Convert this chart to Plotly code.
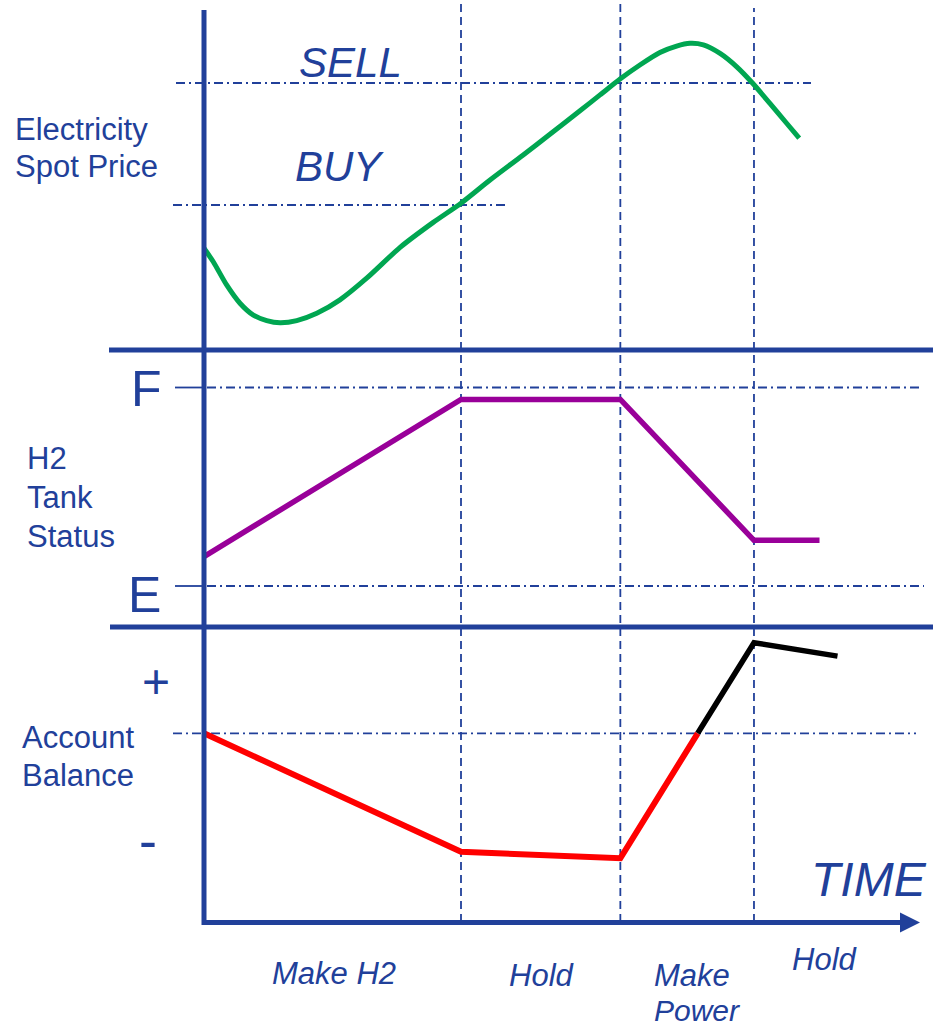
import plotly.graph_objects as go

# ---------------- data ----------------
phase_bounds = [10.0, 16.2, 21.4]          # time where the operating phase changes
phase_names = ["Make H2", "Hold", "Make", "Power", "Hold"]

price_t = [0.0, 0.36, 0.88, 1.40, 1.92, 2.44, 2.96, 3.61, 4.39, 5.29, 6.33, 7.63, 8.92, 10.0,
           11.13, 12.42, 13.46, 14.63, 15.41, 16.19, 16.96, 17.74, 18.39, 18.91, 19.43, 20.08,
           20.73, 21.35, 22.02, 22.67, 23.16]
price_v = [25.8, 21.4, 13.8, 7.8, 3.9, 2.1, 1.4, 2.1, 4.5, 8.9, 16.0, 26.1, 34.3, 40.6,
           48.2, 56.4, 63.2, 70.9, 76.1, 81.3, 85.9, 90.0, 92.1, 93.0, 92.5, 89.7,
           85.3, 79.9, 73.3, 66.8, 61.9]
buy_level, sell_level = 40, 80

tank_t = [0.0, 10.0, 16.2, 21.4, 23.95]
tank_v = [14.8, 94.0, 94.0, 23.0, 23.0]
tank_empty, tank_full = 0, 100

bal_loss_t = [0.0, 10.0, 16.2, 19.21]
bal_loss_v = [0.0, -59.2, -62.5, 0.0]
bal_gain_t = [19.21, 21.4, 24.65]
bal_gain_v = [0.0, 45.3, 38.6]
bal_zero = 0

# ---------------- layout helpers ----------------
W, H = 933, 1029
BLUE = '#21409a'
FONT = 'Liberation Sans, Arial, sans-serif'
X0, XS = 204.0, 25.7          # pixel of t=0, pixels per time unit


def px(x):
    return x / W


def py(y):
    return 1 - y / H


def yrange(p_ref, v_ref, scale, top, bottom):
    # value v_ref at pixel p_ref, scale pixels per unit
    return [v_ref - (bottom - p_ref) / scale, v_ref + (p_ref - top) / scale]


D1, D2 = 350.0, 627.0

fig = go.Figure()
fig.add_trace(go.Scatter(x=price_t, y=price_v, mode='lines', yaxis='y',
                         line=dict(color='#00a651', width=5, shape='spline', smoothing=0.7),
                         hoverinfo='skip'))
fig.add_trace(go.Scatter(x=tank_t, y=tank_v, mode='lines', yaxis='y2',
                         line=dict(color='#990099', width=5.5), hoverinfo='skip'))
fig.add_trace(go.Scatter(x=bal_loss_t, y=bal_loss_v, mode='lines', yaxis='y3',
                         line=dict(color='#ff0000', width=6), hoverinfo='skip'))
fig.add_trace(go.Scatter(x=bal_gain_t, y=bal_gain_v, mode='lines', yaxis='y3',
                         line=dict(color='#000000', width=5.5), hoverinfo='skip'))

hidden = dict(showgrid=False, zeroline=False, showticklabels=False, showline=False, ticks='', fixedrange=True)

fig.update_layout(
    width=W, height=H, margin=dict(l=0, r=0, t=0, b=0),
    paper_bgcolor='white', plot_bgcolor='rgba(0,0,0,0)', showlegend=False,
    xaxis=dict(domain=[0, 1], range=[(0 - X0) / XS, (W - X0) / XS], **hidden),
    yaxis=dict(domain=[py(D1), 1], range=yrange(205, buy_level, 3.05, 0, D1), **hidden),
    yaxis2=dict(domain=[py(D2), py(D1)], range=yrange(586, tank_empty, 1.985, D1, D2), **hidden),
    yaxis3=dict(domain=[0, py(D2)], range=yrange(733.3, bal_zero, 2.0, D2, H), **hidden),
)

shapes = []
DASHDOT = '9px,4px,2px,4px'
# phase boundary lines
for i, b in enumerate(phase_bounds):
    shapes.append(dict(type='line', xref='x', yref='paper', x0=b, x1=b,
                       y0=py(922), y1=py(8 if i == 2 else 0),
                       line=dict(color=BLUE, width=1.8, dash='8px,5px'), layer='below'))
# threshold lines
shapes.append(dict(type='line', xref='paper', yref='y', x0=px(176), x1=px(811), y0=sell_level, y1=sell_level,
                   line=dict(color=BLUE, width=1.8, dash=DASHDOT), layer='below'))
shapes.append(dict(type='line', xref='paper', yref='y', x0=px(173), x1=px(508), y0=buy_level, y1=buy_level,
                   line=dict(color=BLUE, width=1.8, dash=DASHDOT), layer='below'))
for lvl, xe in [(tank_full, 921), (tank_empty, 924)]:
    shapes.append(dict(type='line', xref='paper', yref='y2', x0=px(175), x1=px(204), y0=lvl, y1=lvl,
                       line=dict(color=BLUE, width=1.8), layer='below'))
    shapes.append(dict(type='line', xref='paper', yref='y2', x0=px(207), x1=px(xe), y0=lvl, y1=lvl,
                       line=dict(color=BLUE, width=1.8, dash=DASHDOT), layer='below'))
shapes.append(dict(type='line', xref='paper', yref='y3', x0=px(173), x1=px(916), y0=bal_zero, y1=bal_zero,
                   line=dict(color=BLUE, width=1.8, dash=DASHDOT), layer='below'))
# frame lines
shapes.append(dict(type='line', xref='paper', yref='paper', x0=px(204), x1=px(204), y0=py(10), y1=py(925),
                   line=dict(color=BLUE, width=5), layer='above'))
shapes.append(dict(type='line', xref='paper', yref='paper', x0=px(109), x1=px(933), y0=py(D1), y1=py(D1),
                   line=dict(color=BLUE, width=5), layer='above'))
shapes.append(dict(type='line', xref='paper', yref='paper', x0=px(110), x1=px(933), y0=py(D2), y1=py(D2),
                   line=dict(color=BLUE, width=5), layer='above'))
shapes.append(dict(type='line', xref='paper', yref='paper', x0=px(202), x1=px(906), y0=py(922.5), y1=py(922.5),
                   line=dict(color=BLUE, width=5), layer='above'))
shapes.append(dict(type='path', xref='paper', yref='paper',
                   path=f"M {px(920)} {py(922.5)} L {px(900)} {py(912.5)} L {px(900)} {py(932.5)} Z",
                   fillcolor=BLUE, line=dict(color=BLUE, width=0), layer='above'))
fig.update_layout(shapes=shapes)


def label(text, x, y, size, xanchor='center', italic=False):
    return dict(text=text, x=px(x), y=py(y), xref='paper', yref='paper', showarrow=False,
                xanchor=xanchor, yanchor='middle',
                font=dict(family=FONT, size=size, color=BLUE, style='italic' if italic else 'normal'))


ann = [
    label('Electricity', 13, 129.5, 31, 'left'),
    label('Spot Price', 13, 166, 31, 'left'),
    label('H2', 25, 459, 31, 'left'),
    label('Tank', 25, 497.5, 31, 'left'),
    label('Status', 25, 536, 31, 'left'),
    label('Account', 20, 737.5, 31, 'left'),
    label('Balance', 20, 775, 31, 'left'),
    label('SELL', 350, 62.5, 42, italic=True),
    label('BUY', 339, 166, 42, italic=True),
    label('F', 146, 389, 50),
    label('E', 144, 595, 50),
    label('+', 156, 681, 48),
    label('-', 148, 840, 54),
    label('TIME', 869, 879, 48, italic=True),
    label(phase_names[0], 334, 973, 31, italic=True),
    label(phase_names[1], 542, 975, 31, italic=True),
    label(phase_names[2], 652, 975, 31, 'left', italic=True),
    label(phase_names[3], 652, 1010, 30, 'left', italic=True),
    label(phase_names[4], 825, 959, 31, italic=True),
]
fig.update_layout(annotations=ann)

fig.write_html("out.html", config={'displayModeBar': False},
               post_script="document.body.style.margin='0px';document.body.style.overflow='hidden';")
